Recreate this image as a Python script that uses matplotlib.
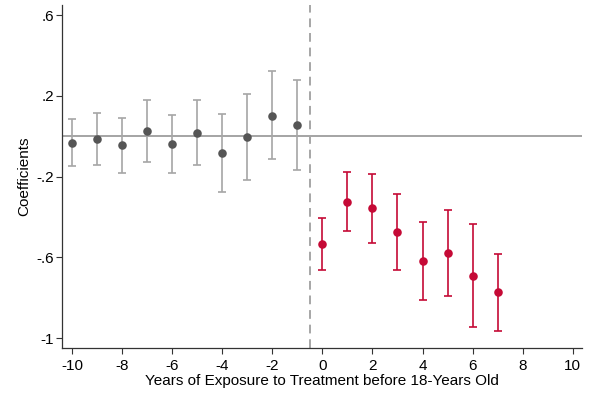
import matplotlib
matplotlib.use('Agg')
import matplotlib.pyplot as plt

plt.rcParams['font.family'] = ['Liberation Sans', 'DejaVu Sans']
plt.rcParams['axes.unicode_minus'] = False

# Pre-treatment estimates (years -10 .. -1)
pre_years = [-10, -9, -8, -7, -6, -5, -4, -3, -2, -1]
pre_coef = [-0.032, -0.015, -0.045, 0.026, -0.038, 0.018, -0.081, -0.002, 0.102, 0.055]
pre_lo = [-0.147, -0.144, -0.182, -0.127, -0.182, -0.142, -0.276, -0.215, -0.114, -0.166]
pre_hi = [0.084, 0.117, 0.092, 0.178, 0.106, 0.180, 0.112, 0.208, 0.322, 0.278]

# Post-treatment estimates (years 0 .. 7)
post_years = [0, 1, 2, 3, 4, 5, 6, 7]
post_coef = [-0.535, -0.324, -0.357, -0.473, -0.618, -0.579, -0.691, -0.772]
post_lo = [-0.664, -0.470, -0.527, -0.663, -0.810, -0.792, -0.947, -0.964]
post_hi = [-0.407, -0.177, -0.185, -0.284, -0.427, -0.365, -0.435, -0.582]

yticks = [0.6, 0.2, -0.2, -0.6, -1.0]
ytick_labels = ['.6', '.2', '-.2', '-.6', '-1']
xticks = [-10, -8, -6, -4, -2, 0, 2, 4, 6, 8, 10]

fig = plt.figure(figsize=(5.9, 3.94), dpi=100)
ax = fig.add_axes([0.1056, 0.1175, 0.8804, 0.8698])

def draw(years, coef, lo, hi, pt_color, bar_color):
    err = [[c - l for c, l in zip(coef, lo)], [h - c for c, h in zip(coef, hi)]]
    ax.errorbar(years, coef, yerr=err, fmt='none', ecolor=bar_color,
                elinewidth=1.2, capsize=3, capthick=1.2, zorder=2)
    ax.scatter(years, coef, s=38, color=pt_color, zorder=3, linewidths=0)

draw(pre_years, pre_coef, pre_lo, pre_hi, '#555555', '#a6a6a6')
draw(post_years, post_coef, post_lo, post_hi, '#c50a36', '#c50a36')

ax.axhline(0, color='#8c8c8c', lw=1.1, zorder=1)
ax.axvline(-0.5, color='#a6a6a6', lw=1.4, ls=(0, (4.5, 3)), zorder=1)

ax.set_xlim(-10.39, 10.36)
ax.set_ylim(-1.048, 0.651)
ax.set_xticks(xticks)
ax.set_yticks(yticks)
ax.set_yticklabels(ytick_labels)
ax.tick_params(labelsize=11, length=4, width=0.8, color='#333333')
ax.tick_params(axis='x', pad=4)
ax.tick_params(axis='y', pad=2)

for s in ['top', 'right']:
    ax.spines[s].set_visible(False)
for s in ['left', 'bottom']:
    ax.spines[s].set_color('#333333')
    ax.spines[s].set_linewidth(0.9)

ax.set_xlabel('Years of Exposure to Treatment before 18-Years Old', fontsize=11, labelpad=1)
ax.set_ylabel('Coefficients', fontsize=11, labelpad=4)

fig.savefig('out.png', dpi=100)
